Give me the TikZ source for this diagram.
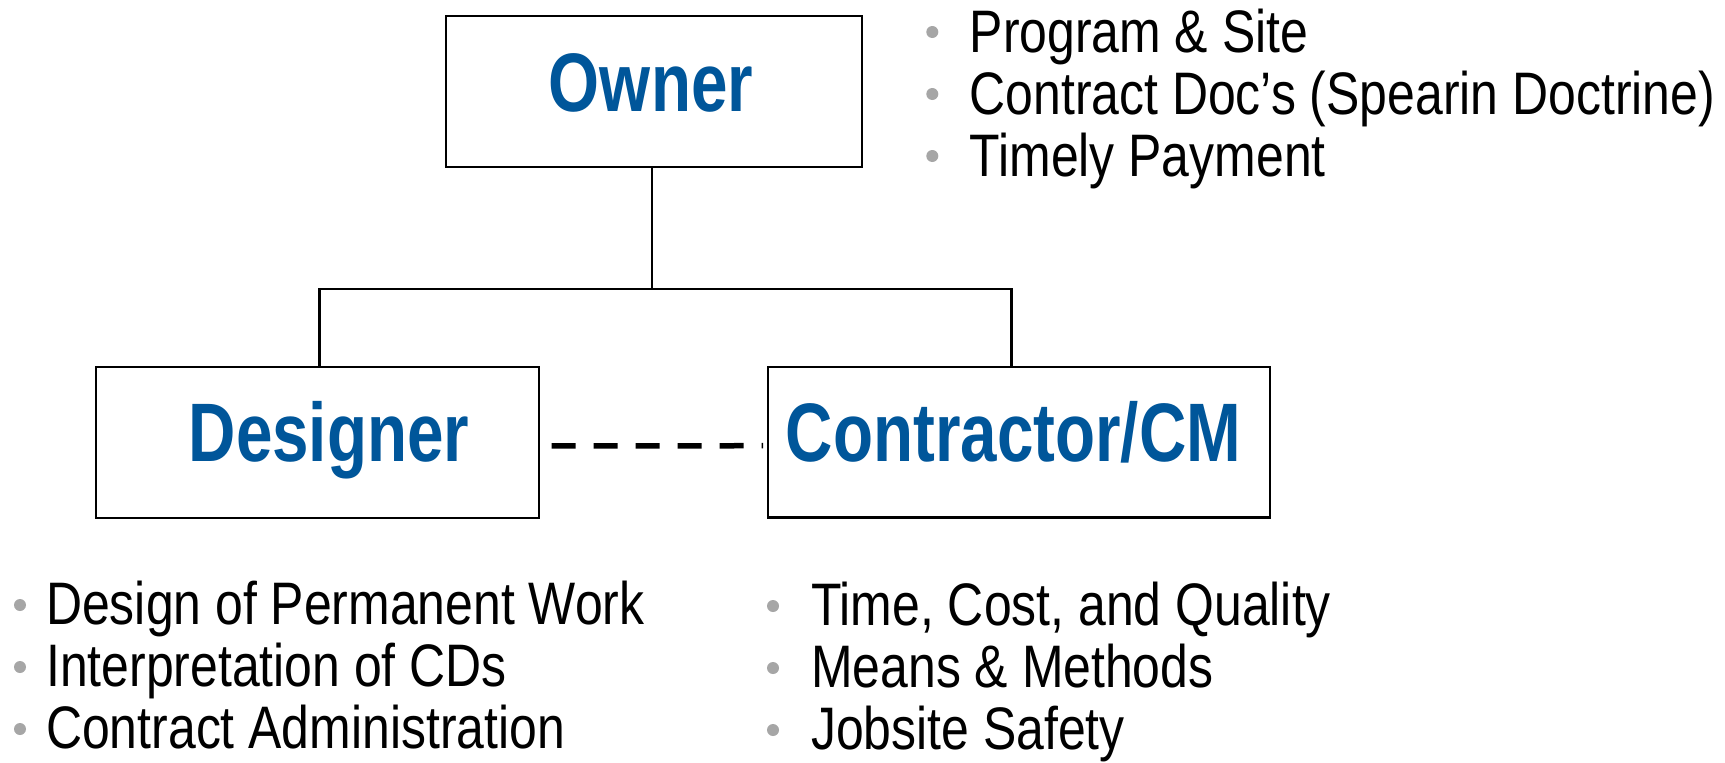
\documentclass[tikz,border=0pt]{standalone}
\usepackage{fontspec}
\setmainfont{Liberation Sans}
\newfontfamily\titlefont[FakeStretch=0.79]{Liberation Sans}
\newfontfamily\listfont[FakeStretch=0.832]{Liberation Sans}
\definecolor{titleblue}{HTML}{00569A}
\definecolor{bulletgray}{HTML}{A6A6A6}
\begin{document}
\begin{tikzpicture}[x=1pt,y=-1pt,
  box/.style={draw=black, line width=2.2pt, fill=white, inner sep=0pt, outer sep=0pt},
  title/.style={text=titleblue, inner sep=0pt, anchor=base,
    font=\titlefont\bfseries\fontsize{83}{86}\selectfont},
  item/.style={inner sep=0pt, anchor=base west,
    font=\listfont\fontsize{60}{66}\selectfont},
  dot/.style={circle, fill=bulletgray, inner sep=0pt, minimum size=12pt},
  link/.style={line width=2.2pt}]
  \useasboundingbox (0,0) rectangle (1725,763);
  \fill[white] (0,0) rectangle (1725,763);

  % boxes
  \node[box, minimum width=416pt, minimum height=151pt] (owner) at (654,91.5) {};
  \node[box, minimum width=443pt, minimum height=151pt] (designer) at (317.5,442.5) {};
  \node[box, minimum width=502pt, minimum height=150.5pt] (contractor) at (1019,442.2) {};

  % box titles
  \node[title] (ownerT) at (651,111) {Owner};
  \node[title] (designerT) at (329,461) {Designer};
  \node[title] (contractorT) at (1013.5,461) {Contractor/CM};

  % reporting lines
  \coordinate (busC) at (651.7,289);
  \coordinate (busL) at (319.5,289);
  \coordinate (busR) at (1011.5,289);
  \draw[link] (busC |- owner.south) -- (busC);
  \draw[link] (designer.north -| busL) -- (busL) -- (busR) -- (contractor.north -| busR);

  % designer -- contractor relation
  \draw[line width=5.5pt, dash pattern=on 24pt off 18pt, shorten <=12.7pt, shorten >=5pt]
    ([yshift=-3.5pt]designer.east) -- ([yshift=-3.5pt]contractor.west);

  % owner duties
  \node[dot] (o1) at (932.3,32) {};
  \node[dot] (o2) at (932.3,94) {};
  \node[dot] (o3) at (932.3,156) {};
  \node[item] (ot1) at (969.5,52) {Program \& Site};
  \node[item] (ot2) at (969.5,114) {Contract Doc’s (Spearin Doctrine)};
  \node[item] (ot3) at (969.5,176) {Timely Payment};

  % designer duties
  \node[dot] (d1) at (20,605) {};
  \node[dot] (d2) at (20,667) {};
  \node[dot] (d3) at (20,729) {};
  \node[item] (dt1) at (46,624) {Design of Permanent Work};
  \node[item] (dt2) at (46,686) {Interpretation of CDs};
  \node[item] (dt3) at (46,748) {Contract Administration};

  % contractor duties
  \node[dot] (c1) at (773,606) {};
  \node[dot] (c2) at (773,668) {};
  \node[dot] (c3) at (773,730) {};
  \node[item] (ct1) at (811,625) {Time, Cost, and Quality};
  \node[item] (ct2) at (811,687) {Means \& Methods};
  \node[item] (ct3) at (811,749) {Jobsite Safety};
\end{tikzpicture}
\end{document}
